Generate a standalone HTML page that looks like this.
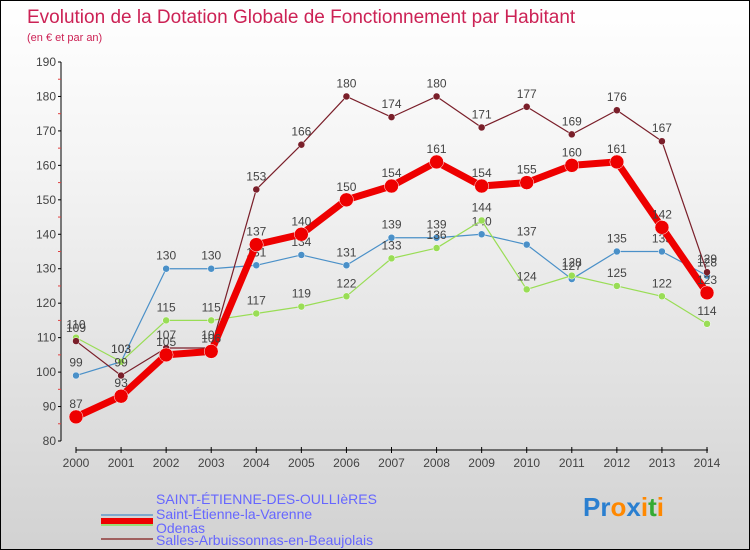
<!DOCTYPE html>
<html><head><meta charset="utf-8"><style>
body{margin:0;}
#c{width:750px;height:550px;position:relative;overflow:hidden;box-sizing:border-box;border:1px solid #000;background:linear-gradient(#ffffff,#f4f4f4 30%,#d2d2d2);font-family:"Liberation Sans",sans-serif;}
</style></head><body>
<div id="c">
<svg id="s" width="750" height="550" style="position:absolute;left:0;top:0">
<text x="26" y="22" font-size="19" fill="#cc2255">Evolution de la Dotation Globale de Fonctionnement par Habitant</text>
<text x="26" y="40" font-size="11" fill="#cc2255">(en € et par an)</text>
<g id="plot"></g>
<g id="legend">
<rect x="100" y="517" width="52" height="8" fill="#ee0000"/>
<text x="155" y="503" font-size="14" fill="#6666ff">SAINT-ÉTIENNE-DES-OULLIèRES</text>
<rect x="100" y="513" width="52" height="2" fill="#7fa8cc"/>
<text x="155" y="518" font-size="14" fill="#6666ff">Saint-Étienne-la-Varenne</text>
<rect x="100" y="523" width="52" height="2" fill="#99dd77"/>
<text x="155" y="532" font-size="14" fill="#6666ff">Odenas</text>
<rect x="100" y="537" width="52" height="2" fill="#a06060"/>
<text x="155" y="544" font-size="14" fill="#6666ff">Salles-Arbuissonnas-en-Beaujolais</text>
</g>
<g font-size="26" font-weight="bold">
<text x="582" y="515"><tspan fill="#2a7fd0">Pr</tspan><tspan fill="#ff8800">o</tspan><tspan fill="#2a7fd0">x</tspan><tspan fill="#ff8800">i</tspan><tspan fill="#33aa33">t</tspan><tspan fill="#ff8800">i</tspan></text>
</g>
</svg>
</div>
<script>
const years=[2000,2001,2002,2003,2004,2005,2006,2007,2008,2009,2010,2011,2012,2013,2014];
const mainVals=[87,93,105,106,137,140,150,154,161,154,155,160,161,142,123];
const varenneVals=[99,103,130,130,131,134,131,139,139,140,137,127,135,135,128];
const odenasVals=[110,103,115,115,117,119,122,133,136,144,124,128,125,122,114];
const sallesVals=[109,99,107,107,153,166,180,174,180,171,177,169,176,167,129];
const yTicks=[80,90,100,110,120,130,140,150,160,170,180,190];
const NS="http://www.w3.org/2000/svg";
const g=document.getElementById('plot');
function X(i){return 75+i*(706-75)/(years.length-1);}
function Y(v){return 440-(v-80)*(440-61)/110;}
function mk(t,a){const e=document.createElementNS(NS,t);for(const k in a)e.setAttribute(k,a[k]);g.appendChild(e);return e;}
let e=mk('line',{x1:60,y1:Y(190),x2:60,y2:Y(80),stroke:'#000','stroke-width':1});


e=mk('line',{x1:75,y1:449,x2:707,y2:449,stroke:'#000','stroke-width':1});


yTicks.forEach(v=>{
 mk('line',{x1:57,y1:Y(v),x2:60,y2:Y(v),stroke:'#000'});
 if(v<190) mk('line',{x1:57,y1:Y(v+5),x2:60,y2:Y(v+5),stroke:'#e04040'});
 const t=mk('text',{x:55,y:Y(v)+4,'text-anchor':'end','font-size':12,fill:'#444'});t.textContent=v;
 
 
});
years.forEach((yr,i)=>{
 mk('line',{x1:X(i),y1:446,x2:X(i),y2:452,stroke:'#000'});
 const t=mk('text',{x:X(i),y:466,'text-anchor':'middle','font-size':12,fill:'#444'});t.textContent=yr;
 
 
});
function series(vals,color,w,r,name){
 const p=mk('polyline',{points:vals.map((v,i)=>X(i)+','+Y(v)).join(' '),fill:'none',stroke:color,'stroke-width':w,'stroke-linejoin':'round'});
 
 
 vals.forEach((v,i)=>{
  const c=mk('circle',{cx:X(i),cy:Y(v),r:r,fill:color,stroke:'#fff','stroke-width':0.5});
  
  
  const t=mk('text',{x:X(i),y:Y(v)-9,'text-anchor':'middle','font-size':12,fill:'#444'});t.textContent=v;
  
  
 });
}
series(varenneVals,'#4a90c8',1.2,3.5,'varenne');
series(odenasVals,'#99dd55',1.2,3.5,'odenas');
series(sallesVals,'#7a1f2a',1.2,3.5,'salles');
series(mainVals,'#ee0000',7,7,'main');
</script>
</body></html>
